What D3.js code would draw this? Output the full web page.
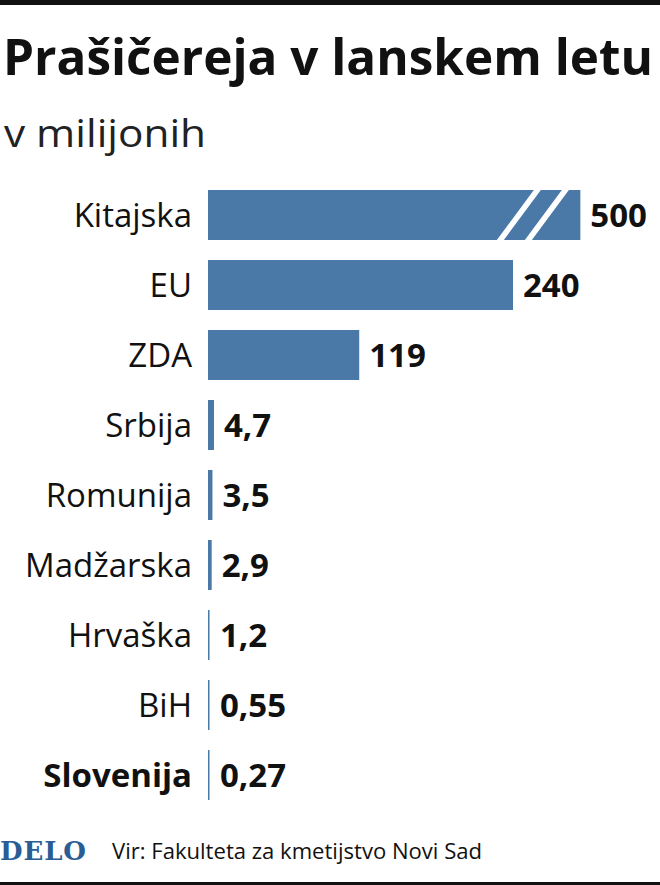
<!DOCTYPE html>
<html><head><meta charset="utf-8">
<script src="https://cdn.jsdelivr.net/npm/d3@7"></script>
<style>body{margin:0;background:#fff}svg{display:block}</style>
</head><body>
<svg id="chart" width="660" height="885"></svg>
<script>
// data
const countries = ["Kitajska","EU","ZDA","Srbija","Romunija","Madžarska","Hrvaška","BiH","Slovenija"];
const pigs = [500,240,119,4.7,3.5,2.9,1.2,0.55,0.27];
const labels = ["500","240","119","4,7","3,5","2,9","1,2","0,55","0,27"];
const breakCap = 293; // bars longer than this are drawn broken

const svg = d3.select("#chart");
const font = "'Open Sans', Roboto, sans-serif";
const blue = "#4a79a8";

svg.append("rect").attr("x",0).attr("y",0).attr("width",660).attr("height",5).attr("fill","#111");
svg.append("text").attr("x",3).attr("y",75).attr("font-family",font).attr("font-weight",700)
  .attr("font-size",50).attr("textLength",650).attr("lengthAdjust","spacingAndGlyphs").attr("fill","#111")
  .text("Prašičereja v lanskem letu");
svg.append("text").attr("x",4).attr("y",147).attr("font-family",font).attr("font-size",38)
  .attr("textLength",202).attr("lengthAdjust","spacingAndGlyphs").attr("fill","#222").text("v milijonih");

const x = d3.scaleLinear().domain([0,240]).range([208,513]);
const y = d3.scaleBand().domain(countries).range([180,810]).paddingInner(0.286).paddingOuter(0.143);

const row = svg.append("g").selectAll("g").data(countries).join("g");
row.append("rect")
  .attr("x",x(0))
  .attr("y",d=>y(d))
  .attr("height",y.bandwidth())
  .attr("width",(d,i)=>Math.max(1.5, x(Math.min(pigs[i],breakCap))-x(0)))
  .attr("fill",blue);
row.append("text")
  .attr("x",192).attr("y",d=>y(d)+y.bandwidth()/2).attr("dy","0.36em")
  .attr("text-anchor","end").attr("font-family",font).attr("font-size",33)
  .attr("font-weight",d=>d==="Slovenija"?700:400).attr("fill","#111").text(d=>d);
row.append("text")
  .attr("x",(d,i)=>Math.max(x(0)+2, x(Math.min(pigs[i],breakCap)))+10)
  .attr("y",d=>y(d)+y.bandwidth()/2).attr("dy","0.36em")
  .attr("font-family",font).attr("font-size",33).attr("font-weight",700).attr("fill","#111")
  .text((d,i)=>labels[i]);

// break marks on the broken bar
pigs.forEach((v,i)=>{
  if(v<=breakCap) return;
  const y0 = y(countries[i])-2, y1 = y0+y.bandwidth()+4, xe = x(breakCap);
  [[-85,-45],[-57,-17]].forEach(([b,t])=>{
    svg.append("polygon").attr("fill","#fff")
      .attr("points",[[xe+b,y1],[xe+b+7,y1],[xe+t+7,y0],[xe+t,y0]].join(" "));
  });
});

// footer
svg.append("text").attr("x",0).attr("y",860).attr("font-family","'DejaVu Serif', 'Liberation Serif', serif")
  .attr("font-weight",700).attr("font-size",26).attr("textLength",86).attr("fill","#2a5d94").text("DELO");
svg.append("text").attr("x",112).attr("y",859).attr("font-family",font).attr("font-size",22)
  .attr("textLength",370).attr("lengthAdjust","spacingAndGlyphs").attr("fill","#111").text("Vir: Fakulteta za kmetijstvo Novi Sad");
svg.append("rect").attr("x",0).attr("y",882).attr("width",660).attr("height",3).attr("fill","#111");
</script>
</body></html>
